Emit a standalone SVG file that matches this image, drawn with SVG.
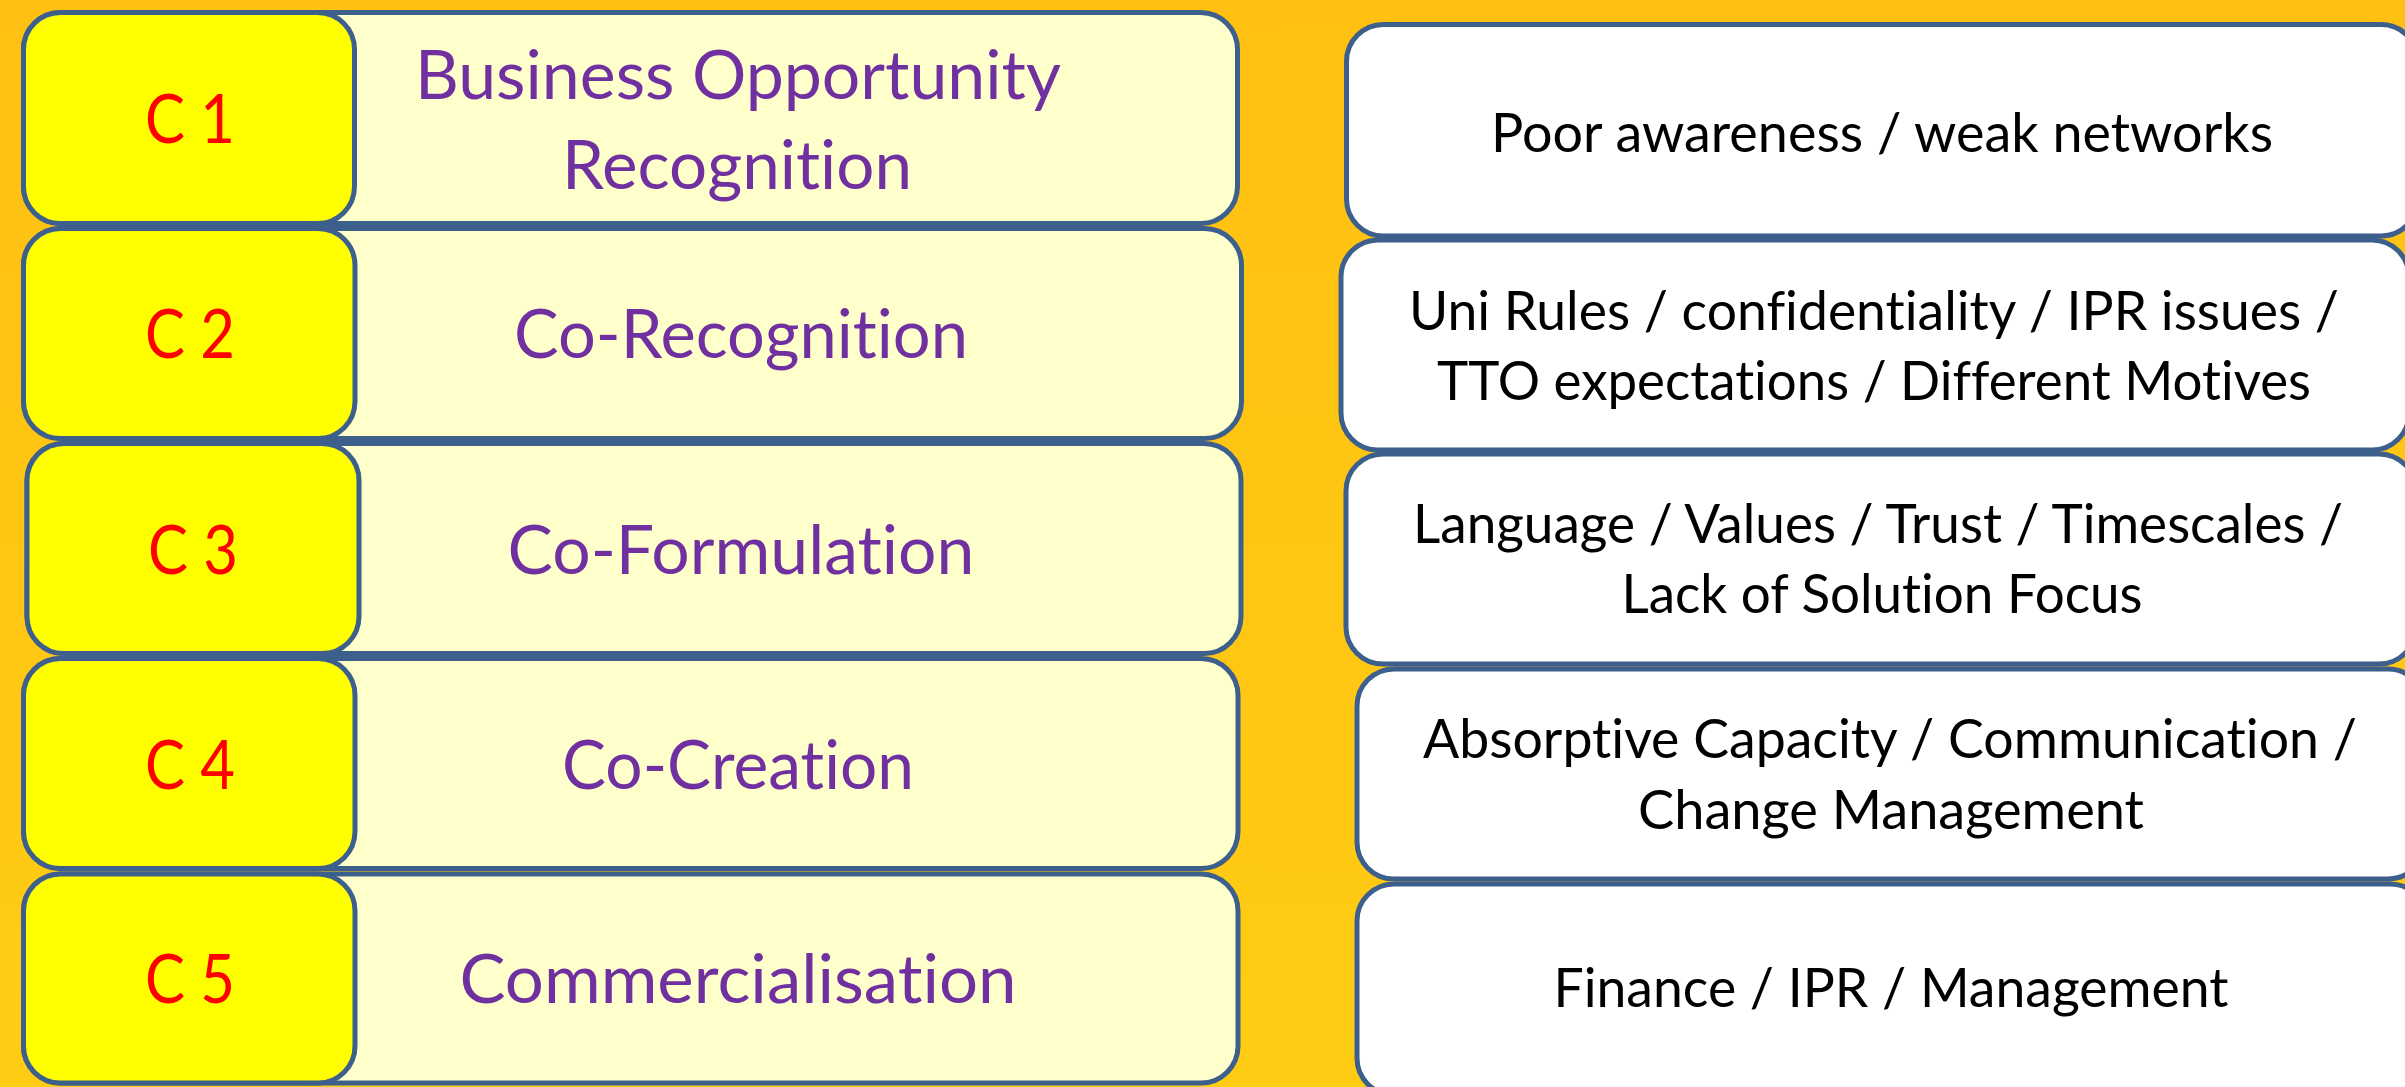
<svg xmlns="http://www.w3.org/2000/svg" width="2405" height="1087" viewBox="0 0 2405 1087">
<defs>
<linearGradient id="bg" x1="0" y1="0" x2="0" y2="1">
<stop offset="0" stop-color="#FFC012"/>
<stop offset="1" stop-color="#FFCC14"/>
</linearGradient>
<style>
.box{stroke:#3D5F8C;stroke-width:5}
.light{fill:#FFFFCC}
.yel{fill:#FFFF00}
.wht{fill:#FFFFFF}
.t{font-family:Lato,"Liberation Sans",sans-serif;text-anchor:middle;font-variant-ligatures:none;font-feature-settings:"liga" 0,"dlig" 0}
.c{font-size:68px;fill:#FF0000}
.p{font-size:67px;fill:#7030A0}
.k{font-size:54px;fill:#000000}
</style>
</defs>
<rect x="0" y="0" width="2405" height="1087" fill="url(#bg)"/>
<g id="connectors"></g>
<g id="row1">
<rect class="box light" x="23.5" y="12.5" width="1214" height="211" rx="37"/>
<rect class="box yel" x="23.5" y="12.5" width="331" height="211" rx="37"/>
<text class="t c" x="190" y="143" textLength="90" lengthAdjust="spacingAndGlyphs">C 1</text>
<text class="t p" x="738" y="99" textLength="646" lengthAdjust="spacingAndGlyphs">Business Opportunity</text>
<text class="t p" x="737" y="189" textLength="350" lengthAdjust="spacingAndGlyphs">Recognition</text>
</g>
<g id="row2">
<rect class="box light" x="23.5" y="228.5" width="1218" height="210" rx="37"/>
<rect class="box yel" x="23.5" y="228.5" width="331.5" height="210" rx="37"/>
<text class="t c" x="190" y="358" textLength="90" lengthAdjust="spacingAndGlyphs">C 2</text>
<text class="t p" x="741" y="358" textLength="454" lengthAdjust="spacingAndGlyphs">Co-Recognition</text>
</g>
<g id="row3">
<rect class="box light" x="27" y="443.5" width="1214" height="210" rx="37"/>
<rect class="box yel" x="27" y="443.5" width="332" height="210" rx="37"/>
<text class="t c" x="193" y="574" textLength="90" lengthAdjust="spacingAndGlyphs">C 3</text>
<text class="t p" x="741" y="574" textLength="467" lengthAdjust="spacingAndGlyphs">Co-Formulation</text>
</g>
<g id="row4">
<rect class="box light" x="23.5" y="658.5" width="1214.5" height="210" rx="37"/>
<rect class="box yel" x="23.5" y="658.5" width="331.5" height="210" rx="37"/>
<text class="t c" x="190" y="789" textLength="90" lengthAdjust="spacingAndGlyphs">C 4</text>
<text class="t p" x="738" y="789" textLength="352" lengthAdjust="spacingAndGlyphs">Co-Creation</text>
</g>
<g id="row5">
<rect class="box light" x="23.5" y="874" width="1214.5" height="209" rx="37"/>
<rect class="box yel" x="23.5" y="874" width="331.5" height="209" rx="37"/>
<text class="t c" x="190" y="1003" textLength="90" lengthAdjust="spacingAndGlyphs">C 5</text>
<text class="t p" x="738" y="1003" textLength="557" lengthAdjust="spacingAndGlyphs">Commercialisation</text>
</g>
<g id="barrier1">
<rect class="box wht" x="1346.5" y="24.5" width="1071.5" height="211.5" rx="37"/>
<text class="t k" x="1882" y="152" textLength="782" lengthAdjust="spacingAndGlyphs">Poor awareness / weak networks</text>
</g>
<g id="barrier2">
<rect class="box wht" x="1341" y="240" width="1068" height="210" rx="37"/>
<text class="t k" x="1874" y="330" textLength="930" lengthAdjust="spacingAndGlyphs">Uni Rules / confidentiality / IPR issues /</text>
<text class="t k" x="1874" y="400" textLength="874" lengthAdjust="spacingAndGlyphs">TTO expectations / Different Motives</text>
</g>
<g id="barrier3">
<rect class="box wht" x="1346" y="454" width="1070" height="210" rx="37"/>
<text class="t k" x="1878" y="543" textLength="930" lengthAdjust="spacingAndGlyphs">Language / Values / Trust / Timescales /</text>
<text class="t k" x="1882" y="613" textLength="521" lengthAdjust="spacingAndGlyphs">Lack of Solution Focus</text>
</g>
<g id="barrier4">
<rect class="box wht" x="1357" y="669" width="1068" height="210" rx="37"/>
<text class="t k" x="1890" y="758" textLength="934" lengthAdjust="spacingAndGlyphs">Absorptive Capacity / Communication /</text>
<text class="t k" x="1891" y="829" textLength="506" lengthAdjust="spacingAndGlyphs">Change Management</text>
</g>
<g id="barrier5">
<rect class="box wht" x="1357" y="884" width="1070" height="211" rx="37"/>
<text class="t k" x="1891" y="1007" textLength="675" lengthAdjust="spacingAndGlyphs">Finance / IPR / Management</text>
</g>
</svg>
